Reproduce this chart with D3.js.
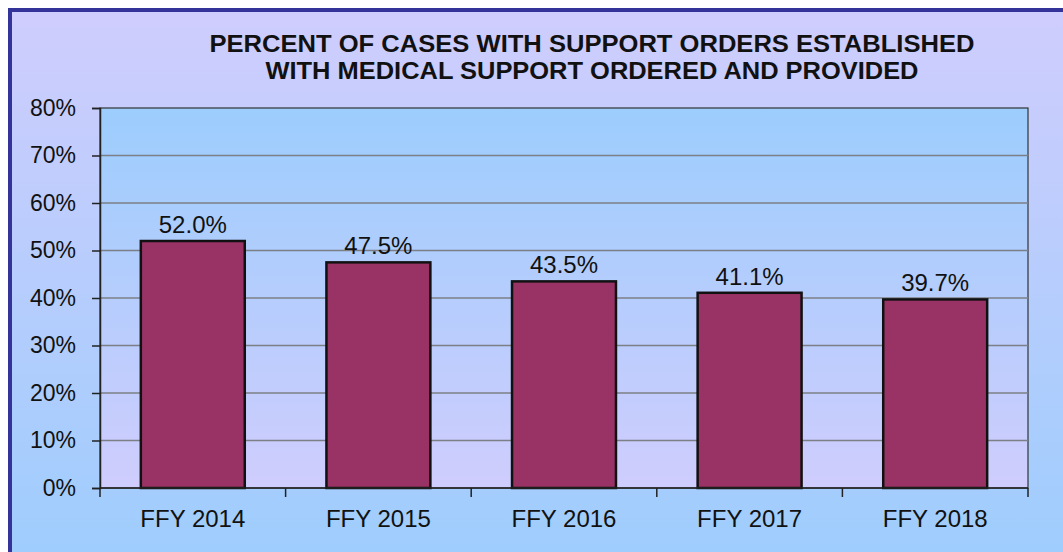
<!DOCTYPE html>
<html>
<head>
<meta charset="utf-8">
<script src="https://cdn.jsdelivr.net/npm/d3@7"></script>
<style>
  body { margin: 0; background: #fff; }
  svg { display: block; font-family: "Liberation Sans", Arial, sans-serif; }
</style>
</head>
<body>
<div id="chart"></div>
<script>
var years = ['FFY 2014', 'FFY 2015', 'FFY 2016', 'FFY 2017', 'FFY 2018'];
var percents = [52.0, 47.5, 43.5, 41.1, 39.7];
var yTicks = [0, 10, 20, 30, 40, 50, 60, 70, 80];
var titleLines = ['PERCENT OF CASES WITH SUPPORT ORDERS ESTABLISHED', 'WITH MEDICAL SUPPORT ORDERED AND PROVIDED'];

var width = 1063, height = 552;
var margin = {top: 108, bottom: 64, left: 100, right: 35};
var plotW = width - margin.left - margin.right;
var plotH = height - margin.top - margin.bottom;

var svg = d3.select('#chart').append('svg')
    .attr('width', width)
    .attr('height', height);

// gradients for panel and plot area
var defs = svg.append('defs');
var outerGrad = defs.append('linearGradient').attr('id', 'outerGrad')
    .attr('x1', 0).attr('y1', 0).attr('x2', 0).attr('y2', 1);
outerGrad.append('stop').attr('offset', '0%').attr('stop-color', '#cfcdfd');
outerGrad.append('stop').attr('offset', '100%').attr('stop-color', '#9ccdfd');
var plotGrad = defs.append('linearGradient').attr('id', 'plotGrad')
    .attr('x1', 0).attr('y1', 0).attr('x2', 0).attr('y2', 1);
plotGrad.append('stop').attr('offset', '0%').attr('stop-color', '#9ccdfd');
plotGrad.append('stop').attr('offset', '100%').attr('stop-color', '#cfcdfd');

// outer panel with navy border
svg.append('rect')
    .attr('x', 10).attr('y', 10)
    .attr('width', width + 20).attr('height', height + 20)
    .attr('fill', 'url(#outerGrad)')
    .attr('stroke', '#333399')
    .attr('stroke-width', 4);

// title (stretched to the width seen in the original)
var titleWidths = [765, 653];
svg.append('g').selectAll('text').data(titleLines).enter().append('text')
    .attr('x', 592)
    .attr('y', (d, i) => 52 + i * 27)
    .attr('text-anchor', 'middle')
    .attr('font-size', 23)
    .attr('font-weight', 'bold')
    .attr('fill', '#111')
    .attr('textLength', (d, i) => titleWidths[i])
    .attr('lengthAdjust', 'spacingAndGlyphs')
    .text(d => d);

var g = svg.append('g')
    .attr('transform', `translate(${margin.left},${margin.top})`);

// scales
var xScale = d3.scaleBand().domain(years).range([0, plotW])
    .paddingInner(0.44).paddingOuter(0.22);
var yScale = d3.scaleLinear().domain([0, 80]).range([plotH, 0]);

// plot background
g.append('rect')
    .attr('width', plotW).attr('height', plotH)
    .attr('fill', 'url(#plotGrad)')
    .attr('stroke', '#333')
    .attr('stroke-width', 1.2);

// gridlines
g.append('g').selectAll('line').data(yTicks.filter(d => d > 0 && d < 80)).enter().append('line')
    .attr('x1', 0).attr('x2', plotW)
    .attr('y1', d => yScale(d)).attr('y2', d => yScale(d))
    .attr('stroke', '#7d7f86')
    .attr('stroke-width', 1.5);

// bars
g.selectAll('rect.bar').data(percents).enter().append('rect')
    .attr('class', 'bar')
    .attr('x', (d, i) => xScale(years[i]))
    .attr('y', d => yScale(d))
    .attr('width', xScale.bandwidth())
    .attr('height', d => plotH - yScale(d))
    .attr('fill', '#993366')
    .attr('stroke', '#111')
    .attr('stroke-width', 2.5);

// value labels
g.selectAll('text.val').data(percents).enter().append('text')
    .attr('class', 'val')
    .attr('x', (d, i) => xScale(years[i]) + xScale.bandwidth() / 2)
    .attr('y', d => yScale(d) - 8)
    .attr('text-anchor', 'middle')
    .attr('font-size', 24)
    .attr('fill', '#111')
    .text(d => d.toFixed(1) + '%');

// y axis
var yAxis = d3.axisLeft(yScale).tickValues(yTicks).tickSize(8).tickPadding(16)
    .tickFormat(d => d + '%');
var gy = g.append('g').call(yAxis);
gy.select('.domain').attr('stroke', '#222').attr('stroke-width', 1.5);
gy.selectAll('.tick line').attr('stroke', '#222').attr('stroke-width', 1.5);
gy.selectAll('text').attr('font-size', 23).attr('fill', '#111')
    .attr('font-family', '"Liberation Sans", Arial, sans-serif');

// x axis: ticks at category boundaries
var gx = g.append('g').attr('transform', `translate(0,${plotH})`);
gx.append('line').attr('x1', 0).attr('x2', plotW)
    .attr('stroke', '#222').attr('stroke-width', 1.5);
var bounds = d3.range(years.length + 1).map(i => i * xScale.step());
gx.selectAll('line.tick').data(bounds).enter().append('line')
    .attr('class', 'tick')
    .attr('x1', d => d).attr('x2', d => d)
    .attr('y1', 0).attr('y2', 9)
    .attr('stroke', '#222').attr('stroke-width', 1.5);
gx.selectAll('text').data(years).enter().append('text')
    .attr('x', d => xScale(d) + xScale.bandwidth() / 2)
    .attr('y', 39)
    .attr('text-anchor', 'middle')
    .attr('font-size', 24)
    .attr('fill', '#111')
    .text(d => d);
</script>
</body>
</html>
